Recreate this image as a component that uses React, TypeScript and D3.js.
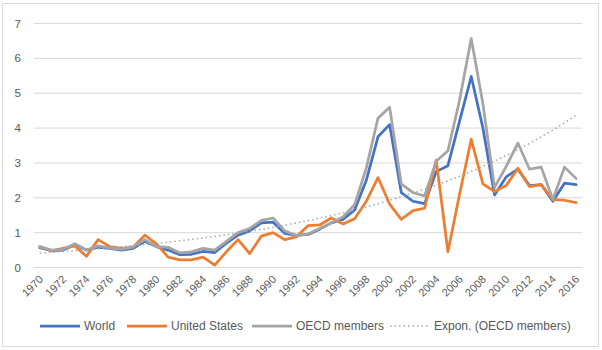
import React from 'react';
import * as d3 from 'd3';

// values
const years = d3.range(1970, 2017);

const world = [
  0.57, 0.48, 0.5, 0.65, 0.5, 0.58, 0.55, 0.5, 0.55, 0.75,
  0.6, 0.5, 0.37, 0.38, 0.46, 0.43, 0.7, 0.93, 1.05, 1.28,
  1.3, 0.98, 0.92, 0.95, 1.1, 1.28, 1.38, 1.65, 2.5, 3.75,
  4.1, 2.15, 1.9, 1.83, 2.75, 2.92, 4.2, 5.48, 4.0, 2.08,
  2.6, 2.82, 2.35, 2.38, 1.9, 2.42, 2.38,
];

const unitedStates = [
  0.6, 0.48, 0.55, 0.62, 0.32, 0.8, 0.6, 0.55, 0.58, 0.93,
  0.68, 0.3, 0.22, 0.22, 0.3, 0.07, 0.45, 0.8, 0.4, 0.9,
  1.0, 0.8, 0.88, 1.2, 1.22, 1.42, 1.25, 1.4, 1.9, 2.58,
  1.82, 1.38, 1.63, 1.7, 3.08, 0.45, 2.1, 3.68, 2.4, 2.18,
  2.35, 2.85, 2.32, 2.38, 1.95, 1.93, 1.86,
];

const oecd = [
  0.6, 0.5, 0.52, 0.68, 0.5, 0.62, 0.56, 0.52, 0.6, 0.8,
  0.6, 0.58, 0.42, 0.45, 0.55, 0.5, 0.75, 1.0, 1.12, 1.35,
  1.42, 1.05, 0.92, 0.96, 1.12, 1.28, 1.45, 1.8, 2.85, 4.28,
  4.6, 2.4, 2.15, 2.05, 3.05, 3.35, 4.8, 6.57, 4.7, 2.3,
  2.9, 3.57, 2.82, 2.88, 1.95, 2.88, 2.55,
];

const yTicks = [0, 1, 2, 3, 4, 5, 6, 7];
const xTickYears = years.filter((y) => y % 2 === 0);

const seriesList = [
  { name: 'World', values: world, color: '#4472C4' },
  { name: 'United States', values: unitedStates, color: '#ED7D31' },
  { name: 'OECD members', values: oecd, color: '#A5A5A5' },
];

// Excel style exponential trendline: least squares on ln(y)
function expTrend(vals: number[]) {
  const xs = vals.map((_, i) => i + 1);
  const ly = vals.map((v) => Math.log(v));
  const mx = d3.mean(xs) as number;
  const my = d3.mean(ly) as number;
  let num = 0, den = 0;
  xs.forEach((x, i) => {
    num += (x - mx) * (ly[i] - my);
    den += (x - mx) * (x - mx);
  });
  const b = num / den;
  const a = my - b * mx;
  return xs.map((x) => Math.exp(a + b * x));
}

const W = 602, H = 350;
const font = '"Liberation Sans", Arial, sans-serif';
const textColor = '#595959';

export default function App() {
  const x = d3.scalePoint<number>().domain(years).range([34, 582]).padding(0.5);
  const y = d3.scaleLinear().domain([0, 7]).range([267.5, 23.5]);

  const line = d3.line<number>()
    .x((_, i) => x(years[i]) as number)
    .y((d) => y(d));

  const trend = expTrend(oecd);

  const legend = [
    { label: 'World', color: '#4472C4', x0: 40, dotted: false },
    { label: 'United States', color: '#ED7D31', x0: 127, dotted: false },
    { label: 'OECD members', color: '#A5A5A5', x0: 252, dotted: false },
    { label: 'Expon. (OECD members)', color: '#A5A5A5', x0: 390, dotted: true },
  ];

  return (
    <svg width={W} height={H} style={{ position: 'absolute', left: 0, top: 0 }} fontFamily={font}>
      <rect x={0} y={0} width={W} height={H} fill="#fff" />
      <rect x={2.5} y={3.5} width={596} height={343} fill="#fff" stroke="#d9d9d9" />

      {/* gridlines + y labels */}
      {yTicks.map((t) => (
        <g key={t}>
          <line x1={34} x2={582} y1={y(t)} y2={y(t)} stroke="#d9d9d9" strokeWidth={1} />
          <text x={21} y={y(t)} dy="0.35em" textAnchor="end" fontSize={11.5} fill={textColor}>{t}</text>
        </g>
      ))}

      {/* x labels */}
      {xTickYears.map((yr) => {
        const px = (x(yr) as number) + 4;
        const py = 280;
        return (
          <text key={yr} x={px} y={py} textAnchor="end" fontSize={11} fill={textColor}
            transform={`rotate(-45, ${px}, ${py})`}>{yr}</text>
        );
      })}

      {seriesList.map((s) => (
        <path key={s.name} d={line(s.values) as string} fill="none" stroke={s.color}
          strokeWidth={2.75} strokeLinejoin="round" strokeLinecap="round" />
      ))}

      <path d={line(trend) as string} fill="none" stroke="#A5A5A5" strokeWidth={1.5}
        strokeDasharray="1.5 3" />

      {/* legend */}
      {legend.map((l) => (
        <g key={l.label}>
          <line x1={l.x0} x2={l.x0 + 40} y1={326} y2={326} stroke={l.color}
            strokeWidth={l.dotted ? 1.5 : 2.75}
            strokeDasharray={l.dotted ? '1.5 3' : undefined} />
          <text x={l.x0 + 44} y={326} dy="0.35em" fontSize={12} fill={textColor}>{l.label}</text>
        </g>
      ))}
    </svg>
  );
}
